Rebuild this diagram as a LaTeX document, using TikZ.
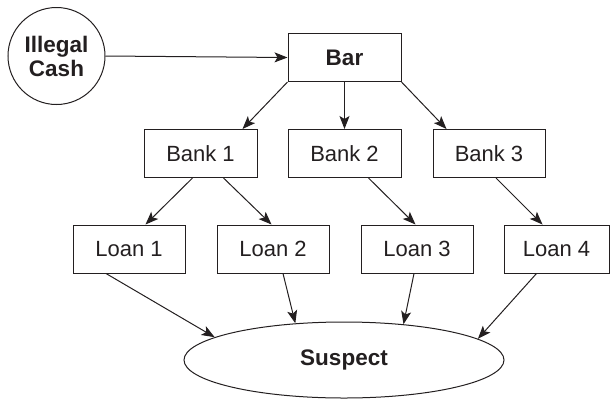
\documentclass[tikz,border=0pt]{standalone}
\usepackage{fontspec}
\setmainfont{Liberation Sans}
\usetikzlibrary{arrows.meta,shapes.geometric}
\definecolor{ink}{HTML}{231F20}
\begin{document}
\begin{tikzpicture}[x=1pt,y=-1pt,
  every node/.style={font=\fontsize{22}{25}\selectfont, text=ink},
  boldtext/.style={font=\fontsize{22.5}{25}\selectfont\bfseries},
  boxnode/.style={draw=ink, line width=1pt, minimum width=113pt, minimum height=48pt, inner sep=0pt},
  conn/.style={draw=ink, line width=1pt, -{Stealth[length=13pt,width=10pt,inset=3pt]}}]
\useasboundingbox (0,0) rectangle (610,400);
\node[draw=ink, line width=1pt, circle, minimum size=97pt, inner sep=0pt, align=center, boldtext] (cash) at (56.5,56) {Illegal\\[-1pt]Cash};
\node[boxnode, boldtext] (bar) at (344.5,57.5) {Bar};
\node[boxnode] (b1) at (200.5,153.5) {Bank 1};
\node[boxnode] (b2) at (344.5,153.5) {Bank 2};
\node[boxnode, minimum width=112pt] (b3) at (489,153.5) {Bank 3};
\node[boxnode, minimum width=112pt] (l1) at (129,249) {Loan 1};
\node[boxnode, minimum width=112pt] (l2) at (273,249) {Loan 2};
\node[boxnode, minimum width=112pt] (l3) at (417,249) {Loan 3};
\node[boxnode, minimum width=105pt] (l4) at (556.5,249) {Loan 4};
\node[draw=ink, line width=1pt, ellipse, minimum width=320pt, minimum height=76pt, inner sep=0pt, boldtext] (sus) at (344,360) {Suspect};
\draw[conn] (cash.east) -- (bar.west);
\draw[conn] (bar.south west) -- ([xshift=-15pt]b1.north east);
\draw[conn] (bar.south) -- (b2.north);
\draw[conn] (bar.south east) -- ([xshift=14pt]b3.north west);
\draw[conn] ([xshift=-8pt]b1.south) -- ([xshift=73pt]l1.north west);
\draw[conn] ([xshift=23pt]b1.south) -- ([xshift=55pt]l2.north west);
\draw[conn] ([xshift=24pt]b2.south) -- ([xshift=55pt]l3.north west);
\draw[conn] ([xshift=7pt]b3.south) -- ([xshift=39pt]l4.north west);
\draw[conn] ([xshift=-23pt]l1.south) -- (sus.170);
\draw[conn] ([xshift=10pt]l2.south) -- (sus.143.7);
\draw[conn] ([xshift=-3pt]l3.south) -- (sus.31.4);
\draw[conn] ([xshift=33pt]l4.south west) -- (sus.9.7);
\end{tikzpicture}
\end{document}
